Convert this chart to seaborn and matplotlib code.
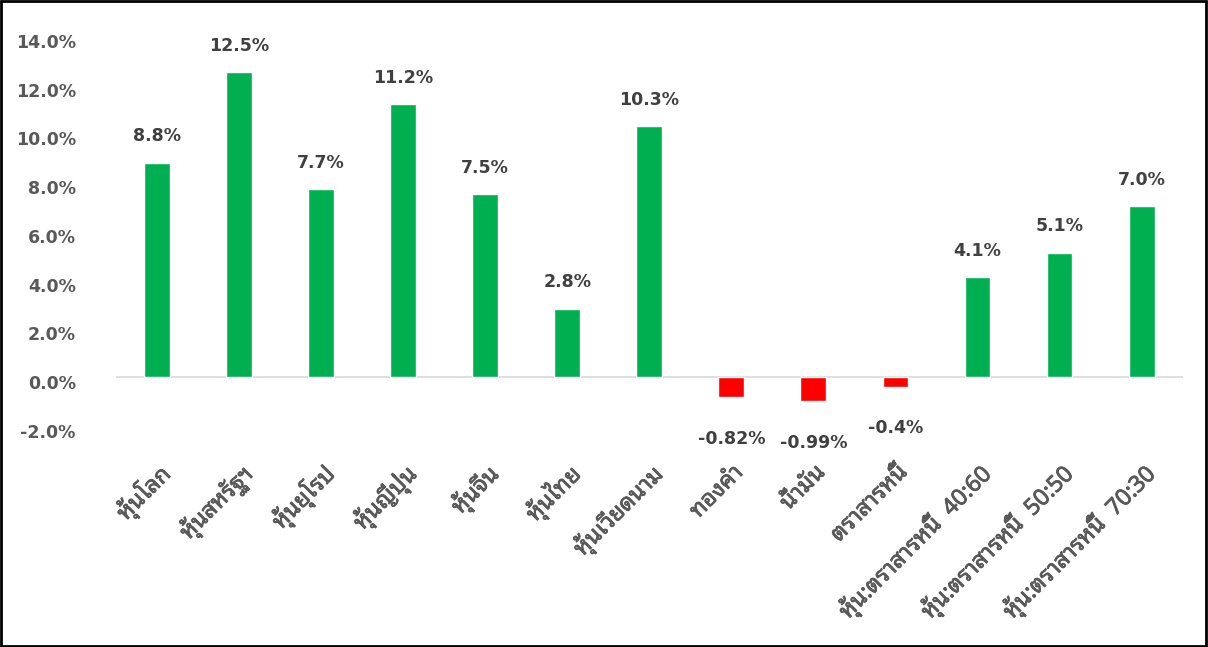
import matplotlib
matplotlib.use("Agg")
import matplotlib.pyplot as plt
import matplotlib.patheffects as pe
from matplotlib.patches import Rectangle
from matplotlib.ticker import FuncFormatter, MultipleLocator
from matplotlib.transforms import ScaledTranslation
import seaborn as sns
import pandas as pd

# data
categories = ["หุ้นโลก", "หุ้นสหรัฐฯ", "หุ้นยุโรป", "หุ้นญี่ปุ่น", "หุ้นจีน",
              "หุ้นไทย", "หุ้นเวียดนาม", "ทองคำ", "น้ำมัน", "ตราสารหนี้",
              "หุ้น:ตราสารหนี้  40:60", "หุ้น:ตราสารหนี้  50:50",
              "หุ้น:ตราสารหนี้  70:30"]
returns = [8.8, 12.5, 7.7, 11.2, 7.5, 2.8, 10.3, -0.82, -0.99, -0.4, 4.1, 5.1, 7.0]
value_labels = ["8.8%", "12.5%", "7.7%", "11.2%", "7.5%", "2.8%", "10.3%",
                "-0.82%", "-0.99%", "-0.4%", "4.1%", "5.1%", "7.0%"]

GREEN = "#00B050"
RED = "#FF0000"
TXT = "#595959"
NUM_FONTS = ["DejaVu Sans"]
THAI_FONTS = ["Noto Sans Thai Looped", "Open Sans", "DejaVu Sans"]

sns.set_style("white")
plt.rcParams["font.family"] = NUM_FONTS

df = pd.DataFrame({"cat": categories, "ret": returns})
palette = {c: (GREEN if v >= 0 else RED) for c, v in zip(categories, returns)}

fig = plt.figure(figsize=(12.08, 6.47), dpi=100)
ax = fig.add_axes([0.096, 0.342, 0.883, 0.6025])

sns.barplot(data=df, x="cat", y="ret", hue="cat", palette=palette,
            dodge=False, width=0.315, legend=False, saturation=1, ax=ax)

ax.set_xlim(-0.5, len(categories) - 0.5)
ax.set_ylim(-2, 14)
ax.yaxis.set_major_locator(MultipleLocator(2))
ax.yaxis.set_major_formatter(FuncFormatter(lambda v, p: f"{v:.1f}%"))
for s in ax.spines.values():
    s.set_visible(False)
ax.axhline(0, color="#D9D9D9", lw=1.2, zorder=0)

ax.set_xlabel("")
ax.set_ylabel("")
ax.tick_params(axis="y", length=0, pad=29, labelsize=12.5, labelcolor=TXT)
shift = ScaledTranslation(0, -5 / 100, fig.dpi_scale_trans)
for t in ax.get_yticklabels():
    t.set_fontweight("bold")
    t.set_transform(t.get_transform() + shift)

ax.set_xticks(range(len(categories)))
ax.set_xticklabels(categories, rotation=45, ha="right", rotation_mode="anchor",
                   fontsize=16.5, color=TXT, family=THAI_FONTS)
# thicken the thai glyphs a bit (only a regular weight is installed)
for t in ax.get_xticklabels():
    t.set_path_effects([pe.withStroke(linewidth=0.6, foreground=TXT)])
ax.tick_params(axis="x", length=0, pad=25)

# value labels
for i, (v, lab) in enumerate(zip(returns, value_labels)):
    off = 19 if v >= 0 else -30
    ax.annotate(lab, (i, v), xytext=(0, off), textcoords="offset points",
                ha="center", va="center", fontsize=12.5, color="#404040",
                fontweight="bold", annotation_clip=False)

# frame around the whole picture
fig.patches.append(Rectangle((0.001, 0.002), 0.997, 0.996, transform=fig.transFigure,
                             fill=False, ec="black", lw=2))

fig.savefig("out.png", dpi=100)
